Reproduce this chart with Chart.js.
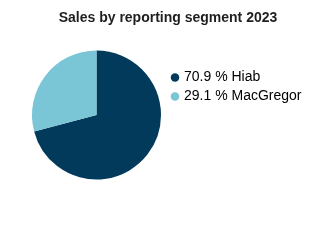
<!DOCTYPE html>
<html>
<head>
<meta charset="utf-8">
<script src="https://cdn.jsdelivr.net/npm/chart.js@4"></script>
<style>
  html, body { margin: 0; padding: 0; background: #fff; }
  #wrap { width: 330px; height: 250px; }
</style>
</head>
<body>
<div id="wrap"><canvas id="pieChart" width="330" height="250"></canvas></div>
<script>
const segmentos = ['Hiab', 'MacGregor'];
const porcentajes = [70.9, 29.1];
const colores = ['#023a5c', '#7ac5d6'];

document.addEventListener("DOMContentLoaded", () => {
  new Chart(document.getElementById("pieChart"), {
    type: 'pie',
    data: {
      labels: segmentos,
      datasets: [{
        data: porcentajes,
        backgroundColor: colores,
        borderWidth: 0,
        radius: 64.5,
        clip: false
      }]
    },
    options: {
      responsive: false,
      animation: false,
      layout: { padding: { left: 25, right: 19, top: 0, bottom: 85.6 } },
      plugins: {
        tooltip: { enabled: false },
        title: {
          display: true,
          text: 'Sales by reporting segment 2023',
          color: '#1f1f1f',
          font: { family: 'Liberation Sans, Arial, sans-serif', size: 14, weight: 'bold' },
          padding: { top: 10, bottom: 38.8 }
        },
        legend: {
          position: 'right',
          align: 'start',
          fullSize: false,
          labels: {
            usePointStyle: true,
            pointStyle: 'circle',
            boxWidth: 4,
            boxHeight: 6,
            padding: 5,
            color: '#1f1f1f',
            font: { family: 'Liberation Sans, Arial, sans-serif', size: 14 },
            generateLabels: (chart) => segmentos.map((s, i) => ({
              text: porcentajes[i].toFixed(1) + ' % ' + s,
              fillStyle: colores[i],
              strokeStyle: colores[i],
              lineWidth: 0,
              pointStyle: 'circle',
              index: i
            }))
          }
        }
      }
    }
  });
});
</script>
</body>
</html>
